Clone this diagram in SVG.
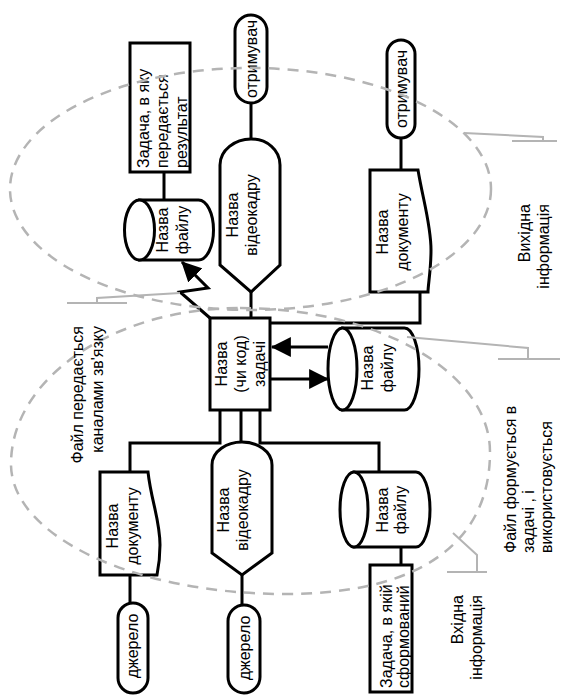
<svg xmlns="http://www.w3.org/2000/svg" width="568" height="698" viewBox="0 0 568 698">
<defs>
<style>
.n{fill:#fff;stroke:#000;stroke-width:3}
.c{fill:none;stroke:#000;stroke-width:3}
.t{font-family:"Liberation Sans",Arial,sans-serif;font-size:16px;fill:#000}
.m{text-anchor:middle}
.e{text-anchor:end}
.g{fill:none;stroke:#b4b4b4;stroke-width:2.5;stroke-dasharray:11 8}
.l{fill:none;stroke:#b4b4b4;stroke-width:2}
</style>
<marker id="ah" markerUnits="userSpaceOnUse" markerWidth="20" markerHeight="20" refX="17" refY="9" orient="auto" viewBox="0 0 18 18">
<path d="M0,0 L18,9 L0,18 Z" fill="#000"/>
</marker>
</defs>
<rect width="568" height="698" fill="#fff"/>

<g id="connectors">
<line class="c" x1="251" y1="103" x2="251" y2="139"/>
<line class="c" x1="251" y1="292" x2="251" y2="318"/>
<line class="c" x1="401" y1="138" x2="401" y2="170"/>
<polyline class="c" points="270,323 420,323 420,292"/>
<line class="c" x1="164" y1="172" x2="164" y2="200"/>
<polyline class="c" points="210,318 180,292 208,288 182,262" marker-end="url(#ah)"/>
<line class="c" x1="328" y1="347" x2="272" y2="347" marker-end="url(#ah)"/>
<line class="c" x1="270" y1="379" x2="328" y2="379" marker-end="url(#ah)"/>
<polyline class="c" points="220,410 220,443 130,443 130,472"/>
<line class="c" x1="241" y1="410" x2="241" y2="442"/>
<polyline class="c" points="260,410 260,443 379,443 379,472"/>
<line class="c" x1="130" y1="575" x2="130" y2="603"/>
<line class="c" x1="242" y1="575" x2="242" y2="605"/>
<line class="c" x1="401" y1="547" x2="401" y2="565"/>
</g>

<g id="n-recv1">
<rect class="n" x="235" y="15" width="32" height="88" rx="16"/>
<text class="t m" transform="translate(256.5,59) rotate(-90)">отримувач</text>
</g>
<g id="n-recv2">
<rect class="n" x="387" y="40" width="28" height="98" rx="14"/>
<text class="t m" transform="translate(406.5,89) rotate(-90)">отримувач</text>
</g>
<g id="n-task-out">
<rect class="n" x="130" y="43" width="60" height="129"/>
<text class="t" transform="translate(149,168) rotate(-90)">Задача, в яку</text>
<text class="t" transform="translate(168,168) rotate(-90)">передається</text>
<text class="t" transform="translate(187,168) rotate(-90)">результат</text>
</g>
<g id="n-file1">
<path class="n" d="M139.5,200 H198.5 A15,30 0 0 1 198.5,260 H139.5 Z"/>
<ellipse class="n" cx="139.5" cy="230" rx="15" ry="30"/>
<text class="t m" transform="translate(168,230) rotate(-90)">Назва</text>
<text class="t m" transform="translate(188,230) rotate(-90)">файлу</text>
</g>
<g id="n-video1">
<path class="n" d="M220,265 V165 C220,150 235,139 251,139 C267,139 280,150 280,165 V265 L251,292 Z"/>
<text class="t m" transform="translate(238,215) rotate(-90)">Назва</text>
<text class="t m" transform="translate(257,215) rotate(-90)">відеокадру</text>
</g>
<g id="n-doc1">
<path class="n" d="M370,170 H418 C423,200 431,225 431,250 C431,270 428,285 428,292 H370 Z"/>
<text class="t m" transform="translate(388,232) rotate(-90)">Назва</text>
<text class="t m" transform="translate(408,232) rotate(-90)">документу</text>
</g>
<g id="n-task">
<rect class="n" x="210" y="318" width="60" height="92"/>
<text class="t m" transform="translate(227,364) rotate(-90)">Назва</text>
<text class="t m" transform="translate(246,364) rotate(-90)">(чи код)</text>
<text class="t m" transform="translate(265,364) rotate(-90)">задачі</text>
</g>
<g id="n-file2">
<path class="n" d="M342.5,328 H404.5 A14.5,41 0 0 1 404.5,410 H342.5 Z"/>
<ellipse class="n" cx="342.5" cy="369" rx="14.5" ry="41"/>
<text class="t m" transform="translate(373,368) rotate(-90)">Назва</text>
<text class="t m" transform="translate(393,368) rotate(-90)">файлу</text>
</g>
<g id="n-doc2">
<path class="n" d="M100,472 H148 C151,500 160,520 160,545 C160,560 158,570 157,575 H100 Z"/>
<text class="t m" transform="translate(118,526) rotate(-90)">Назва</text>
<text class="t m" transform="translate(138,526) rotate(-90)">документу</text>
</g>
<g id="n-video2">
<path class="n" d="M212,553 V465 C212,451 227,442 242,442 C257,442 272,451 272,465 V553 L242,575 Z"/>
<text class="t m" transform="translate(229,510) rotate(-90)">Назва</text>
<text class="t m" transform="translate(248,510) rotate(-90)">відеокадру</text>
</g>
<g id="n-file3">
<path class="n" d="M354,472 H416 A14,37.5 0 0 1 416,547 H354 Z"/>
<ellipse class="n" cx="354" cy="509.5" rx="14" ry="37.5"/>
<text class="t m" transform="translate(388,510) rotate(-90)">Назва</text>
<text class="t m" transform="translate(406,510) rotate(-90)">файлу</text>
</g>
<g id="n-src1">
<rect class="n" x="118" y="603" width="30" height="90" rx="15"/>
<text class="t m" transform="translate(137.5,646) rotate(-90)">джерело</text>
</g>
<g id="n-src2">
<rect class="n" x="228" y="605" width="32" height="88" rx="16"/>
<text class="t m" transform="translate(249.5,648) rotate(-90)">джерело</text>
</g>
<g id="n-task-in">
<rect class="n" x="370" y="565" width="42" height="127"/>
<text class="t" transform="translate(392,688) rotate(-90)">Задача, в якій</text>
<text class="t" transform="translate(409,688) rotate(-90)">сформований</text>
</g>

<g id="regions">
<ellipse class="g" cx="250.5" cy="189" rx="240.5" ry="121"/>
<path class="g" d="M240,308 C378,308 490,372 490,452 C490,544 418,594 285,594 C134,594 11,536 11,464 C11,378 114,308 240,308 Z"/>
<polyline class="l" points="464,133 543,137 543,141"/>
<line class="l" x1="512" y1="141" x2="557" y2="141"/>
<polyline class="l" points="180,293 97,298 97,303"/>
<line class="l" x1="67" y1="303" x2="127" y2="303"/>
<polyline class="l" points="407,337 528,348 528,359"/>
<line class="l" x1="498" y1="359" x2="560" y2="359"/>
<polyline class="l" points="453,533 477,555 477,572"/>
<line class="l" x1="447" y1="572" x2="487" y2="572"/>
</g>

<g id="labels">
<text class="t e" transform="translate(530,204) rotate(-90)">Вихідна</text>
<text class="t e" transform="translate(549,204) rotate(-90)">інформація</text>
<text class="t e" transform="translate(83,326) rotate(-90)">Файл передається</text>
<text class="t e" transform="translate(103,326) rotate(-90)">каналами зв'язку</text>
<text class="t" transform="translate(516,553) rotate(-90)">Файл формується в</text>
<text class="t" transform="translate(534,553) rotate(-90)">задачі , і</text>
<text class="t" transform="translate(552,553) rotate(-90)">використовується</text>
<text class="t e" transform="translate(463,595) rotate(-90)">Вхідна</text>
<text class="t e" transform="translate(482,595) rotate(-90)">інформація</text>
</g>
</svg>
